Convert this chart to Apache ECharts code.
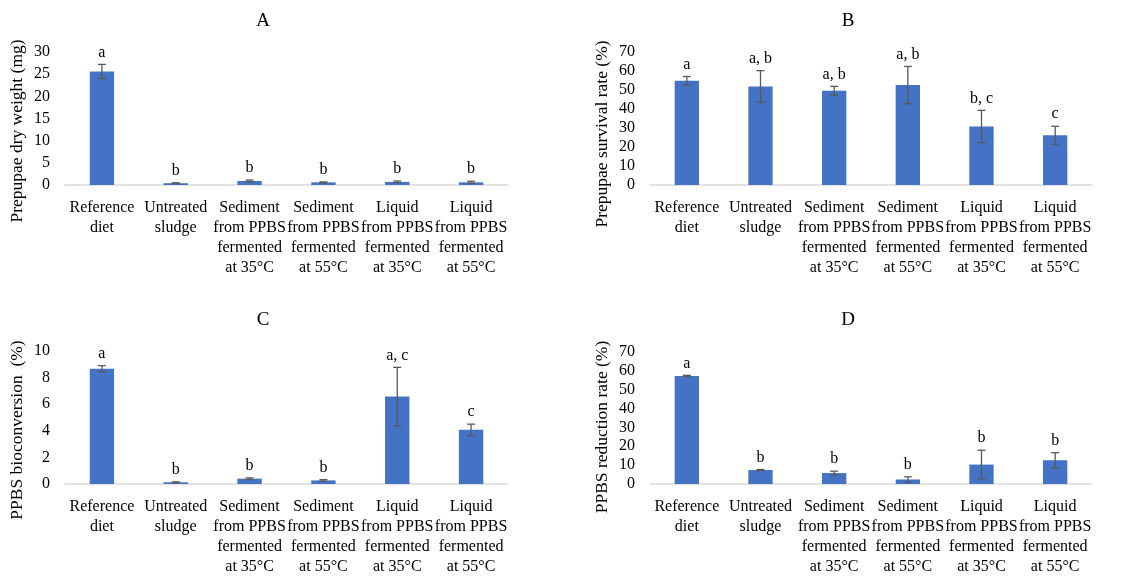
<!DOCTYPE html>
<html>
<head>
<meta charset="utf-8">
<script src="https://cdn.jsdelivr.net/npm/echarts@6/dist/echarts.min.js"></script>
<style>
html,body{margin:0;padding:0;background:#fff;}
#chart{width:1146px;height:577px;}
</style>
</head>
<body>
<div id="chart"></div>
<script>
var categories = ['Reference\ndiet','Untreated\nsludge','Sediment\nfrom PPBS\nfermented\nat 35°C','Sediment\nfrom PPBS\nfermented\nat 55°C','Liquid\nfrom PPBS\nfermented\nat 35°C','Liquid\nfrom PPBS\nfermented\nat 55°C'];

var dryWeightMean = [25.6, 0.4, 0.9, 0.6, 0.7, 0.6];
var dryWeightErr  = [1.6, 0.1, 0.2, 0.1, 0.2, 0.25];
var dryWeightLetters = ['a','b','b','b','b','b'];

var survivalMean = [54.9, 51.9, 49.6, 52.6, 30.8, 26.2];
var survivalErr  = [2.2, 8.3, 2.3, 9.8, 8.5, 4.7];
var survivalLetters = ['a','a, b','a, b','a, b','b, c','c'];

var bioconvMean = [8.67, 0.13, 0.40, 0.27, 6.57, 4.07];
var bioconvErr  = [0.23, 0.03, 0.06, 0.06, 2.2, 0.43];
var bioconvLetters = ['a','b','b','b','a, c','c'];

var reductionMean = [57.3, 7.4, 5.8, 2.4, 10.3, 12.6];
var reductionErr  = [0.3, 0.3, 1.0, 1.4, 7.6, 4.0];
var reductionLetters = ['a','b','b','b','b','b'];

var panelTitles = ['A','B','C','D'];
var yNames = ['Prepupae dry weight (mg)','Prepupae survival rate (%)','PPBS bioconversion  (%)','PPBS reduction rate (%)'];
var yMax = [30, 70, 10, 70];
var yInterval = [5, 10, 2, 10];

var FONT = "'Liberation Serif','Times New Roman',serif";
var panels = [
  {mean: dryWeightMean, err: dryWeightErr, letters: dryWeightLetters},
  {mean: survivalMean, err: survivalErr, letters: survivalLetters},
  {mean: bioconvMean, err: bioconvErr, letters: bioconvLetters},
  {mean: reductionMean, err: reductionErr, letters: reductionLetters}
];
var grids = [
  {left: 65, top: 52, width: 443, height: 133},
  {left: 650, top: 52, width: 442, height: 133},
  {left: 65, top: 351, width: 443, height: 133},
  {left: 650, top: 352, width: 442, height: 132}
];
var titlePos = [[258,7],[843,7],[258,306],[843,306]];
var yNamePos = [[17,131],[602,134],[17,430],[602,427]];

function makeRender(letters) {
  return function (params, api) {
    var i = api.value(0), m = api.value(1), e = api.value(2);
    var top = api.coord([i, m + e]);
    var bot = api.coord([i, m - e]);
    var x = top[0];
    var c = 4;
    var st = {stroke: '#595959', lineWidth: 1.3};
    var children = [
      {type: 'line', shape: {x1: x, y1: top[1], x2: x, y2: bot[1]}, style: st},
      {type: 'line', shape: {x1: x - c, y1: top[1], x2: x + c, y2: top[1]}, style: st},
      {type: 'line', shape: {x1: x - c, y1: bot[1], x2: x + c, y2: bot[1]}, style: st},
      {type: 'text', style: {text: letters[i], x: x, y: top[1] - 4, textAlign: 'center', textVerticalAlign: 'bottom', font: '16px ' + FONT, fill: '#000'}}
    ];
    return {type: 'group', children: children};
  };
}

var option = {
  animation: false,
  backgroundColor: '#fff',
  title: [], grid: [], xAxis: [], yAxis: [], series: [], graphic: []
};
panels.forEach(function (p, k) {
  option.title.push({text: panelTitles[k], left: titlePos[k][0], top: titlePos[k][1], textAlign: 'center',
    textStyle: {fontFamily: FONT, fontSize: 19, fontWeight: 'normal', color: '#000'}});
  option.graphic.push({type: 'text', x: yNamePos[k][0], y: yNamePos[k][1], rotation: Math.PI / 2,
    style: {text: yNames[k], textAlign: 'center', textVerticalAlign: 'middle', font: '17.5px ' + FONT, fill: '#000'}});
  option.grid.push(grids[k]);
  option.xAxis.push({type: 'category', gridIndex: k, data: categories,
    axisLine: {lineStyle: {color: '#d9d9d9', width: 1.5}}, axisTick: {show: false},
    axisLabel: {interval: 0, fontFamily: FONT, fontSize: 16, color: '#000', lineHeight: 20, margin: 13}});
  option.yAxis.push({type: 'value', gridIndex: k, min: 0, max: yMax[k], interval: yInterval[k],
    axisLine: {show: false}, axisTick: {show: false}, splitLine: {show: false},
    axisLabel: {fontFamily: FONT, fontSize: 16, color: '#000', margin: 15}});
  option.series.push({type: 'bar', xAxisIndex: k, yAxisIndex: k, data: p.mean, barWidth: '33%',
    itemStyle: {color: '#4472C4'}});
  option.series.push({type: 'custom', xAxisIndex: k, yAxisIndex: k,
    data: p.mean.map(function (v, i) { return [i, v, p.err[i]]; }),
    encode: {x: 0, y: 1}, renderItem: makeRender(p.letters), z: 5});
});

var chart = echarts.init(document.getElementById('chart'), null, {renderer: 'canvas'});
chart.setOption(option);
</script>
</body>
</html>
